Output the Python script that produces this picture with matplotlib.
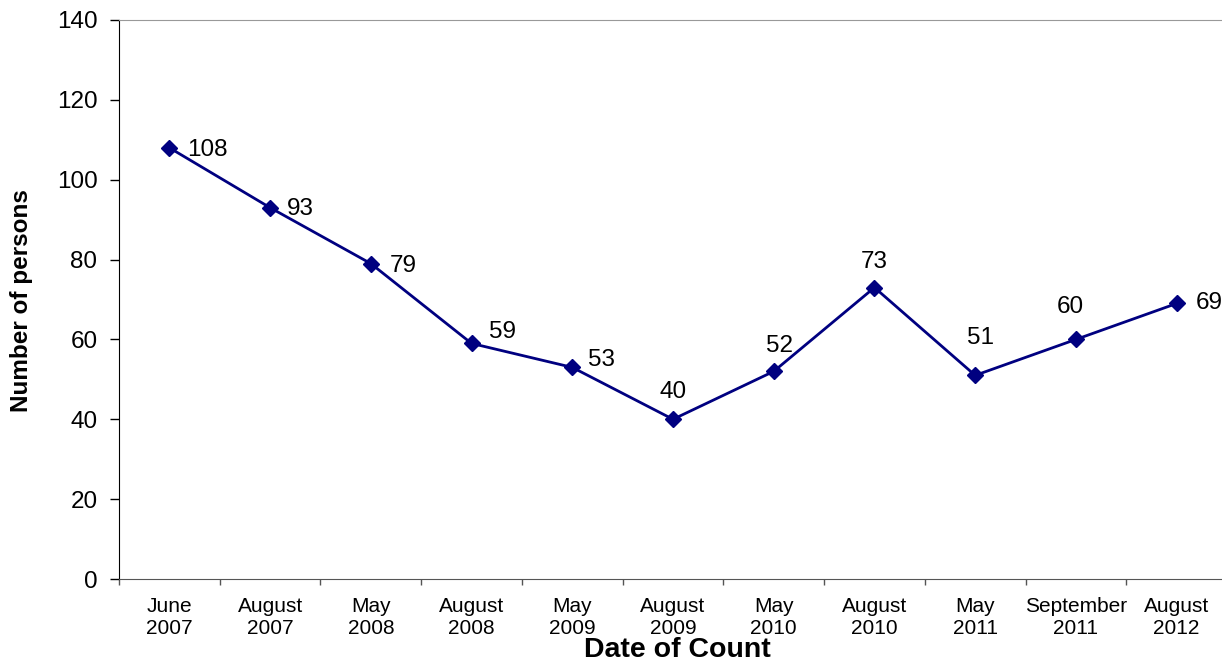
import matplotlib
matplotlib.use("Agg")
import matplotlib.pyplot as plt

dates = ["June\n2007", "August\n2007", "May\n2008", "August\n2008", "May\n2009",
         "August\n2009", "May\n2010", "August\n2010", "May\n2011",
         "September\n2011", "August\n2012"]
persons = [108, 93, 79, 59, 53, 40, 52, 73, 51, 60, 69]

# label offsets in pixels (dx, dy, ha)
label_pos = [(18, -2, "left"), (17, -1, "left"), (19, -2, "left"), (17, 11, "left"),
             (16, 7, "left"), (0, 27, "center"), (6, 25, "center"), (0, 26, "center"),
             (5, 37, "center"), (-6, 32, "center"), (19, 0, "left")]

plt.rcParams["font.family"] = ["Liberation Sans", "DejaVu Sans"]

fig = plt.figure(figsize=(12.22, 6.64), dpi=100)
ax = fig.add_axes([119 / 1222, 85 / 664, 1108 / 1222, 559 / 664])

x = list(range(len(persons)))
ax.plot(x, persons, color="#000080", lw=2, marker="D", markersize=8.5,
        markerfacecolor="#000080", markeredgecolor="#000080")

for xi, v, (dx, dy, ha) in zip(x, persons, label_pos):
    ax.annotate(str(v), (xi, v), xytext=(dx, dy), textcoords="offset pixels",
                ha=ha, va="center", fontsize=17.5)

ax.set_xlim(-0.5, len(persons) - 0.5)
ax.set_ylim(0, 140)
ax.set_yticks(range(0, 141, 20))
ax.set_xticks([i - 0.5 for i in range(len(persons) + 1)])
ax.set_xticklabels([])
ax.set_xticks(x, minor=True)
ax.set_xticklabels(dates, minor=True, fontsize=15, linespacing=1.2)
ax.tick_params(axis="x", which="minor", length=0, pad=13)
ax.tick_params(axis="x", which="major", length=4.5, color="#555555", width=1)
ax.tick_params(axis="y", length=6.5, width=1, labelsize=17.5, pad=9)

ax.spines["left"].set_color("black")
ax.spines["bottom"].set_color("#555555")
ax.spines["top"].set_color("#999999")
ax.spines["right"].set_visible(False)

fig.text(677 / 1222, 1 - 657 / 664, "Date of Count", fontsize=20.5, fontweight="bold",
         ha="center", va="baseline")
fig.text(22 / 1222, 1 - 301 / 664, "Number of persons", fontsize=17.5, fontweight="bold",
         ha="center", va="center", rotation=90)

fig.savefig("out.png", dpi=100)
